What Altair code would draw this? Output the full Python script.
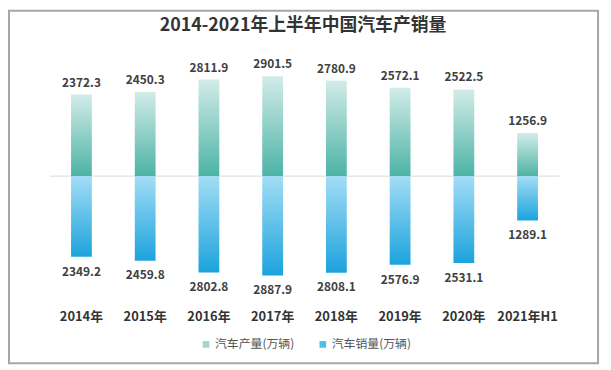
import altair as alt
import pandas as pd

years = ["2014年", "2015年", "2016年", "2017年", "2018年", "2019年", "2020年", "2021年H1"]
production = [2372.3, 2450.3, 2811.9, 2901.5, 2780.9, 2572.1, 2522.5, 1256.9]
sales = [2349.2, 2459.8, 2802.8, 2887.9, 2808.1, 2576.9, 2531.1, 1289.1]
series = ["汽车产量(万辆)", "汽车销量(万辆)"]
title_text = "2014-2021年上半年中国汽车产销量"

FONT = "Noto Sans CJK SC"

rows = []
for y, p, s in zip(years, production, sales):
    rows.append({"year": y, "series": series[0], "value": p, "signed": p, "label": f"{p:.1f}"})
    rows.append({"year": y, "series": series[1], "value": s, "signed": -s, "label": f"{s:.1f}"})
df = pd.DataFrame(rows)
prod_df = df[df.series == series[0]]
sales_df = df[df.series == series[1]]

xenc = alt.X("year:N", sort=years, title=None,
             scale=alt.Scale(paddingInner=0, paddingOuter=0),
             axis=alt.Axis(labelFont=FONT, labelFontSize=13, labelFontWeight="bold",
                           labelColor="#333333", ticks=False, domain=False,
                           labelPadding=11, labelAngle=0))
yscale = alt.Scale(domain=[-3600, 3600], nice=False, zero=False)
yenc = alt.Y("signed:Q", scale=yscale, axis=None)

grad_prod = alt.Gradient(gradient="linear", x1=0, y1=0, x2=0, y2=1,
                         stops=[alt.GradientStop(color="#d2ece8", offset=0),
                                alt.GradientStop(color="#4cb3a5", offset=1)])
grad_sales = alt.Gradient(gradient="linear", x1=0, y1=0, x2=0, y2=1,
                          stops=[alt.GradientStop(color="#a3ddf6", offset=0),
                                 alt.GradientStop(color="#1ca3dc", offset=1)])

base = alt.Chart(df)

bars_p = alt.Chart(prod_df).mark_bar(size=21, color=grad_prod).encode(x=xenc, y=yenc)
bars_s = alt.Chart(sales_df).mark_bar(size=21, color=grad_sales).encode(x=xenc, y=yenc)

zero = alt.Chart(pd.DataFrame({"z": [0]})).mark_rule(color="#d9d9d9", strokeWidth=1).encode(
    y=alt.Y("z:Q", scale=yscale, axis=None))

txt_p = alt.Chart(prod_df).mark_text(dy=-12, font=FONT, fontSize=12, fontWeight="bold",
                                     color="#404040").encode(x=xenc, y=yenc, text="label:N")
txt_s = alt.Chart(sales_df).mark_text(dy=15, font=FONT, fontSize=12, fontWeight="bold",
                                      color="#404040").encode(x=xenc, y=yenc, text="label:N")

legend_layer = base.mark_square(size=0, opacity=0).encode(
    x=xenc, y=yenc,
    color=alt.Color("series:N", sort=series,
                    scale=alt.Scale(domain=series, range=["#9fd6ce", "#4fbde9"]),
                    legend=alt.Legend(title=None, orient="none", direction="horizontal",
                                      legendX=152, legendY=289,
                                      symbolType="square", symbolSize=45,
                                      symbolOpacity=1, symbolStrokeWidth=0,
                                      labelFont=FONT, labelFontSize=12, labelColor="#555555",
                                      columnPadding=22, labelOffset=3)))

title = alt.Chart(pd.DataFrame({"t": [title_text]})).mark_text(
    font=FONT, fontSize=18, fontWeight="bold", color="#333333", align="center",
    baseline="middle").encode(x=alt.value(256), y=alt.value(-27), text="t:N")

border = alt.Chart(pd.DataFrame({"a": [0]})).mark_rect(
    fill=None, stroke="#a6a6a6", strokeWidth=2).encode(
    x=alt.value(-41), x2=alt.value(554), y=alt.value(-42), y2=alt.value(314))

chart = alt.layer(zero, bars_p, bars_s, txt_p, txt_s, legend_layer, title, border).properties(
    width=515, height=250,
    autosize=alt.AutoSizeParams(type="none"),
    padding={"left": 42, "top": 43, "right": 44, "bottom": 66},
).configure_view(stroke=None)

chart.save("out.html", embed_options={"renderer": "svg", "actions": False})
